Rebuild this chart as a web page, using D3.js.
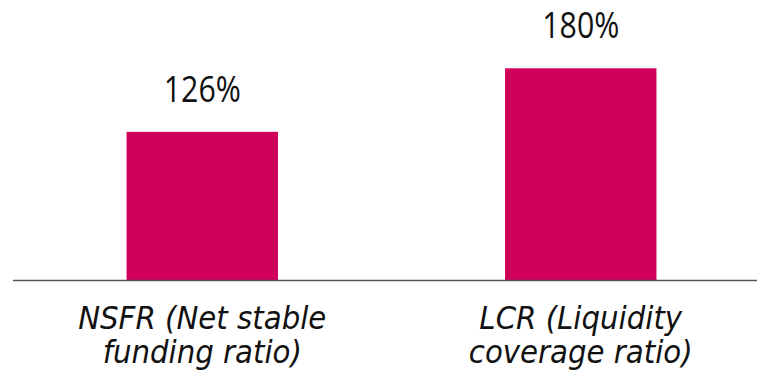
<!DOCTYPE html>
<html>
<head>
<meta charset="utf-8">
<script src="https://cdn.jsdelivr.net/npm/d3@7"></script>
<style>
  html, body { margin: 0; padding: 0; background: #fff; }
  svg { display: block; }
  text { fill: #111; }
  .value { font-family: "Open Sans", "Liberation Sans", sans-serif; }
  .cat { font-family: "DejaVu Sans Condensed", "DejaVu Sans", sans-serif; font-style: italic; }
</style>
</head>
<body>
<svg id="chart" width="757" height="374"></svg>
<script>
// Liquidity ratios
const categories = ["NSFR", "LCR"];
const categoryLines = [
  ["NSFR (Net stable", "funding ratio)"],
  ["LCR (Liquidity", "coverage ratio)"]
];
const values = [126, 180];
const valueLabels = ["126%", "180%"];

const W = 757, H = 374;
const baseY = 280;
const barColor = "#D0005A";

const svg = d3.select("#chart");

const x = d3.scaleBand()
  .domain(categories)
  .range([13, 770])
  .paddingInner(0.6)
  .paddingOuter(0.3);

const y = d3.scaleLinear()
  .domain([0, 200])
  .range([baseY, baseY - 235.2]);

const cx = c => x(c) + x.bandwidth() / 2;

// bars
svg.selectAll("rect.bar")
  .data(values)
  .join("rect")
  .attr("class", "bar")
  .attr("x", (d, i) => x(categories[i]))
  .attr("width", x.bandwidth())
  .attr("y", d => y(d))
  .attr("height", d => y(0) - y(d))
  .attr("fill", barColor);

// baseline
svg.append("line")
  .attr("x1", 13).attr("x2", W)
  .attr("y1", baseY + 0.5).attr("y2", baseY + 0.5)
  .attr("stroke", "#555")
  .attr("stroke-width", 1.5);

// value labels (narrowed horizontally)
svg.selectAll("text.value")
  .data(values)
  .join("text")
  .attr("class", "value")
  .attr("transform", (d, i) => `translate(${cx(categories[i])},${y(d) - 30}) scale(0.82,1)`)
  .attr("text-anchor", "middle")
  .style("font-size", "37px")
  .text((d, i) => valueLabels[i]);

// category labels, two lines each
const cat = svg.selectAll("text.cat")
  .data(categories)
  .join("text")
  .attr("class", "cat")
  .attr("text-anchor", "middle")
  .style("font-size", "32.5px");

cat.selectAll("tspan")
  .data((d, i) => categoryLines[i].map(t => ({ t, c: d })))
  .join("tspan")
  .attr("x", d => cx(d.c))
  .attr("y", (d, j) => 329 + j * 34)
  .text(d => d.t);
</script>
</body>
</html>
